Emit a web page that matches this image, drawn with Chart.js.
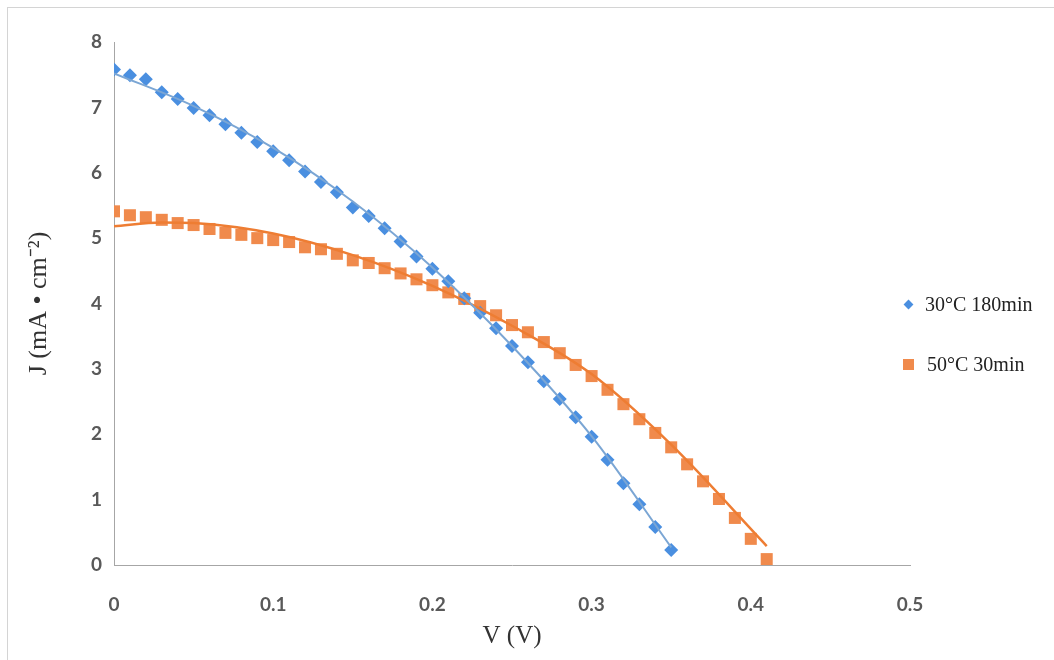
<!DOCTYPE html>
<html>
<head>
<meta charset="utf-8">
<script src="https://cdn.jsdelivr.net/npm/chart.js@4/dist/chart.umd.min.js"></script>
<style>
  html, body { margin: 0; padding: 0; background: #fff; }
  #wrap { position: relative; width: 1054px; height: 660px; overflow: hidden; }
  #frame { position: absolute; left: 7px; top: 7px; width: 1100px; height: 700px; border: 1px solid #d4d4d4; }
  #chart { position: absolute; left: 0; top: 0; }
  .legend { position: absolute; left: 903px; font-family: "Liberation Serif", serif; font-size: 20px; color: #222; }
  .legend span.mk { display: inline-block; vertical-align: middle; margin-right: 13px; position: relative; top: -2px; }
  .dia { width: 7px; height: 7px; background: #4a8fe0; transform: rotate(45deg); margin-left: 2px; }
  .sq { width: 11px; height: 11px; background: #f08a4c; }
</style>
</head>
<body>
<div id="wrap">
  <div id="frame"></div>
  <canvas id="chart" width="1054" height="660"></canvas>
  <div class="legend" style="top:293px"><span class="mk dia"></span>30°C 180min</div>
  <div class="legend" style="top:353px"><span class="mk sq"></span>50°C 30min</div>
</div>
<script>
const xTicks = [0, 0.1, 0.2, 0.3, 0.4, 0.5];
const yTicks = [0, 1, 2, 3, 4, 5, 6, 7, 8];

// measured points, V step 0.01
const blueV = [0, 0.01, 0.02, 0.03, 0.04, 0.05, 0.06, 0.07, 0.08, 0.09, 0.10, 0.11, 0.12, 0.13, 0.14, 0.15, 0.16, 0.17,
  0.18, 0.19, 0.20, 0.21, 0.22, 0.23, 0.24, 0.25, 0.26, 0.27, 0.28, 0.29, 0.30, 0.31, 0.32, 0.33, 0.34, 0.35];
const blueJ = [7.58, 7.49, 7.43, 7.23, 7.13, 6.99, 6.88, 6.74, 6.61, 6.47, 6.33, 6.19, 6.02, 5.86, 5.70, 5.47, 5.34, 5.15,
  4.95, 4.72, 4.53, 4.34, 4.08, 3.86, 3.62, 3.35, 3.10, 2.81, 2.54, 2.26, 1.96, 1.61, 1.25, 0.93, 0.58, 0.23];

const orangeV = [0, 0.01, 0.02, 0.03, 0.04, 0.05, 0.06, 0.07, 0.08, 0.09, 0.10, 0.11, 0.12, 0.13, 0.14, 0.15, 0.16, 0.17,
  0.18, 0.19, 0.20, 0.21, 0.22, 0.23, 0.24, 0.25, 0.26, 0.27, 0.28, 0.29, 0.30, 0.31, 0.32, 0.33, 0.34, 0.35, 0.36, 0.37,
  0.38, 0.39, 0.40, 0.41];
const orangeJ = [5.41, 5.35, 5.32, 5.28, 5.23, 5.20, 5.14, 5.08, 5.05, 5.00, 4.97, 4.94, 4.86, 4.83, 4.76, 4.66, 4.62, 4.54,
  4.46, 4.37, 4.28, 4.17, 4.07, 3.96, 3.82, 3.67, 3.56, 3.41, 3.24, 3.06, 2.89, 2.68, 2.46, 2.23, 2.02, 1.80, 1.54, 1.28,
  1.01, 0.72, 0.40, 0.09];

// trend lines
const blueFitV = [0, 0.05, 0.10, 0.15, 0.20, 0.25, 0.30, 0.35];
const blueFitJ = [7.52, 7.02, 6.38, 5.56, 4.55, 3.35, 1.97, 0.27];
const orangeFitV = [0, 0.03, 0.05, 0.10, 0.15, 0.20, 0.25, 0.30, 0.35, 0.41];
const orangeFitJ = [5.18, 5.24, 5.23, 5.07, 4.74, 4.27, 3.66, 2.92, 1.84, 0.29];

const blueLine = "#7ba6d4";
const blueMark = "#4a8fe0";
const orangeLine = "#ee7d33";
const orangeMark = "#f08a4c";

function toPoints(xs, ys) {
  return xs.map((x, i) => ({ x, y: ys[i] }));
}

const tickFont = { family: "Lato, 'Open Sans', sans-serif", size: 19, weight: "bold" };
const titleFont = { family: "'Liberation Serif', serif", size: 25 };

new Chart(document.getElementById("chart"), {
  type: "scatter",
  data: {
    datasets: [
      {
        label: "fit 30",
        data: toPoints(blueFitV, blueFitJ),
        showLine: true,
        borderColor: blueLine,
        borderWidth: 2,
        pointRadius: 0,
        cubicInterpolationMode: "monotone"
      },
      {
        label: "fit 50",
        data: toPoints(orangeFitV, orangeFitJ),
        showLine: true,
        borderColor: orangeLine,
        borderWidth: 2.5,
        pointRadius: 0,
        cubicInterpolationMode: "monotone"
      },
      {
        label: "30°C 180min",
        data: toPoints(blueV, blueJ),
        pointStyle: "rectRot",
        pointRadius: 7,
        backgroundColor: blueMark,
        borderColor: blueMark,
        borderWidth: 0
      },
      {
        label: "50°C 30min",
        data: toPoints(orangeV, orangeJ),
        pointStyle: "rect",
        pointRadius: 8.5,
        backgroundColor: orangeMark,
        borderColor: orangeMark,
        borderWidth: 0
      }
    ]
  },
  options: {
    responsive: false,
    animation: false,
    layout: { padding: { left: 0, right: 144, top: 42, bottom: 0 } },
    plugins: {
      legend: { display: false },
      tooltip: { enabled: false }
    },
    scales: {
      x: {
        type: "linear",
        min: 0,
        max: 0.5,
        afterBuildTicks: (scale) => { scale.ticks = xTicks.map((v) => ({ value: v })); },
        afterFit: (scale) => { scale.height = 95; },
        grid: { color: "transparent", drawTicks: false },
        border: { display: true, color: "#a6a6a6", width: 1 },
        ticks: {
          padding: 28,
          color: "#595959",
          font: tickFont,
          callback: (v) => String(v)
        },
        title: {
          display: true,
          text: "V (V)",
          color: "#333",
          font: titleFont,
          padding: { top: 0, bottom: 9 }
        }
      },
      y: {
        min: 0,
        max: 8,
        afterBuildTicks: (scale) => { scale.ticks = yTicks.map((v) => ({ value: v })); },
        afterFit: (scale) => { scale.width = 114; },
        grid: { color: "transparent", drawTicks: false },
        border: { display: true, color: "#a6a6a6", width: 1 },
        ticks: {
          padding: 12,
          color: "#595959",
          font: tickFont
        },
        title: {
          display: true,
          text: "J (mA • cm⁻²)",
          color: "#333",
          font: { family: "'Liberation Serif', serif", size: 26 },
          padding: { top: 24, bottom: 0 }
        }
      }
    }
  }
});
</script>
</body>
</html>
